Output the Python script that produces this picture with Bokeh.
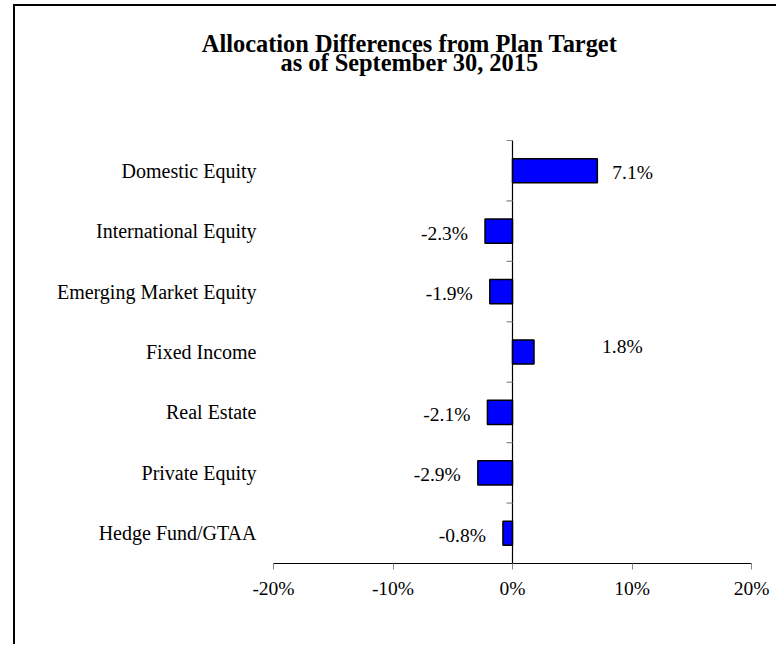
import math
from bokeh.plotting import figure
from bokeh.models import ColumnDataSource, FixedTicker, LabelSet, Label, Range1d
from bokeh.core.properties import value
from bokeh.embed import file_html
from bokeh.resources import INLINE

# ---- data ----
categories = ["Domestic Equity", "International Equity", "Emerging Market Equity",
              "Fixed Income", "Real Estate", "Private Equity", "Hedge Fund/GTAA"]
differences = [7.1, -2.3, -1.9, 1.8, -2.1, -2.9, -0.8]
value_labels = ["7.1%", "-2.3%", "-1.9%", "1.8%", "-2.1%", "-2.9%", "-0.8%"]
x_ticks = [-20, -10, 0, 10, 20]
x_tick_labels = ["-20%", "-10%", "0%", "10%", "20%"]
title_lines = ["Allocation Differences from Plan Target", "as of September 30, 2015"]
baseline = 0

FONT = "Liberation Serif"
n = len(categories)
centers = [n - i - 0.5 for i in range(n)]
bounds = list(range(n + 1))

# ---- layout (pixels) ----
W, H = 763, 640
plot_left, plot_w = 258, 478      # where the x axis from -20% to 20% sits
plot_top, plot_h = 134, 423       # where the category area sits
frame_h = plot_top + plot_h
px_x = plot_w / (x_ticks[-1] - x_ticks[0])
px_y = plot_h / n
x_start = x_ticks[0] - plot_left / px_x
x_end = x_ticks[0] + (W - plot_left) / px_x
y_end = frame_h / px_y

# label placement (Fixed Income label is floated as in the original)
x_off = [15 if v >= 0 else -17 for v in differences]
y_off = [-2] * n
aligns = ["left" if v >= 0 else "right" for v in differences]
fi = categories.index("Fixed Income")
x_off[fi] = 68
y_off[fi] = 6

src = ColumnDataSource(dict(cat=categories, val=differences, lab=value_labels,
                            y=centers, xo=x_off, yo=y_off, al=aligns,
                            lx=[x_ticks[0]] * n))
tick_src = ColumnDataSource(dict(x=[baseline] * len(bounds), y=bounds))

p = figure(width=W, height=H, output_backend="svg", toolbar_location=None,
           x_range=Range1d(x_start, x_end), y_range=Range1d(0, y_end),
           y_axis_location=None,
           min_border_left=0, min_border_right=0, min_border_top=0,
           min_border_bottom=H - frame_h)
p.outline_line_color = None
p.xgrid.visible = False
p.ygrid.visible = False
p.background_fill_color = "white"
p.border_fill_color = "white"
p.styles = {"margin-left": "13px", "margin-top": "4px",
            "border-top": "2px solid black", "border-left": "2px solid black"}

p.hbar(y="y", right="val", left=baseline, height=0.4, source=src,
       fill_color="#0000FF", line_color="black", line_width=1.5)

# zero line with category separator ticks
p.segment(x0=baseline, y0=bounds[0], x1=baseline, y1=bounds[-1],
          line_color="black", line_width=1.2)
p.ray(x="x", y="y", length=6, length_units="screen", angle=math.pi, source=tick_src,
      line_color="#888888", line_width=1.2)

# x axis
xa = p.xaxis[0]
xa.bounds = (x_ticks[0], x_ticks[-1])
xa.ticker = FixedTicker(ticks=x_ticks)
xa.major_label_overrides = {t: l for t, l in zip(x_ticks, x_tick_labels)}
xa.axis_line_color = "black"
xa.axis_line_width = 1.2
xa.major_tick_line_color = "#888888"
xa.major_tick_in = 0
xa.major_tick_out = 6
xa.minor_tick_line_color = None
xa.major_label_standoff = 8
xa.major_label_text_font = FONT
xa.major_label_text_font_size = "19.5px"
xa.major_label_text_color = "black"

# category labels
p.text(x="lx", y="y", text="cat", source=src, x_offset=-17, text_align="right",
       text_baseline="middle", text_font=value(FONT), text_font_size=value("20px"),
       text_color="black")

labels = LabelSet(x="val", y="y", text="lab", source=src, x_offset="xo", y_offset="yo",
                  text_align="al", text_baseline="middle",
                  text_font=value(FONT), text_font_size=value("19.5px"), text_color="black")
p.add_layout(labels)

# title (two centred lines)
title_cx = 394
title_base = [frame_h - 37, frame_h - 56]
for line, yb in zip(title_lines, title_base):
    p.add_layout(Label(x=title_cx, y=yb, x_units="screen", y_units="screen",
                       text=line, text_align="center", text_baseline="alphabetic",
                       text_font=FONT, text_font_style="bold", text_font_size="24.4px",
                       text_color="black"))

open("out.html", "w").write(file_html(p, INLINE))
